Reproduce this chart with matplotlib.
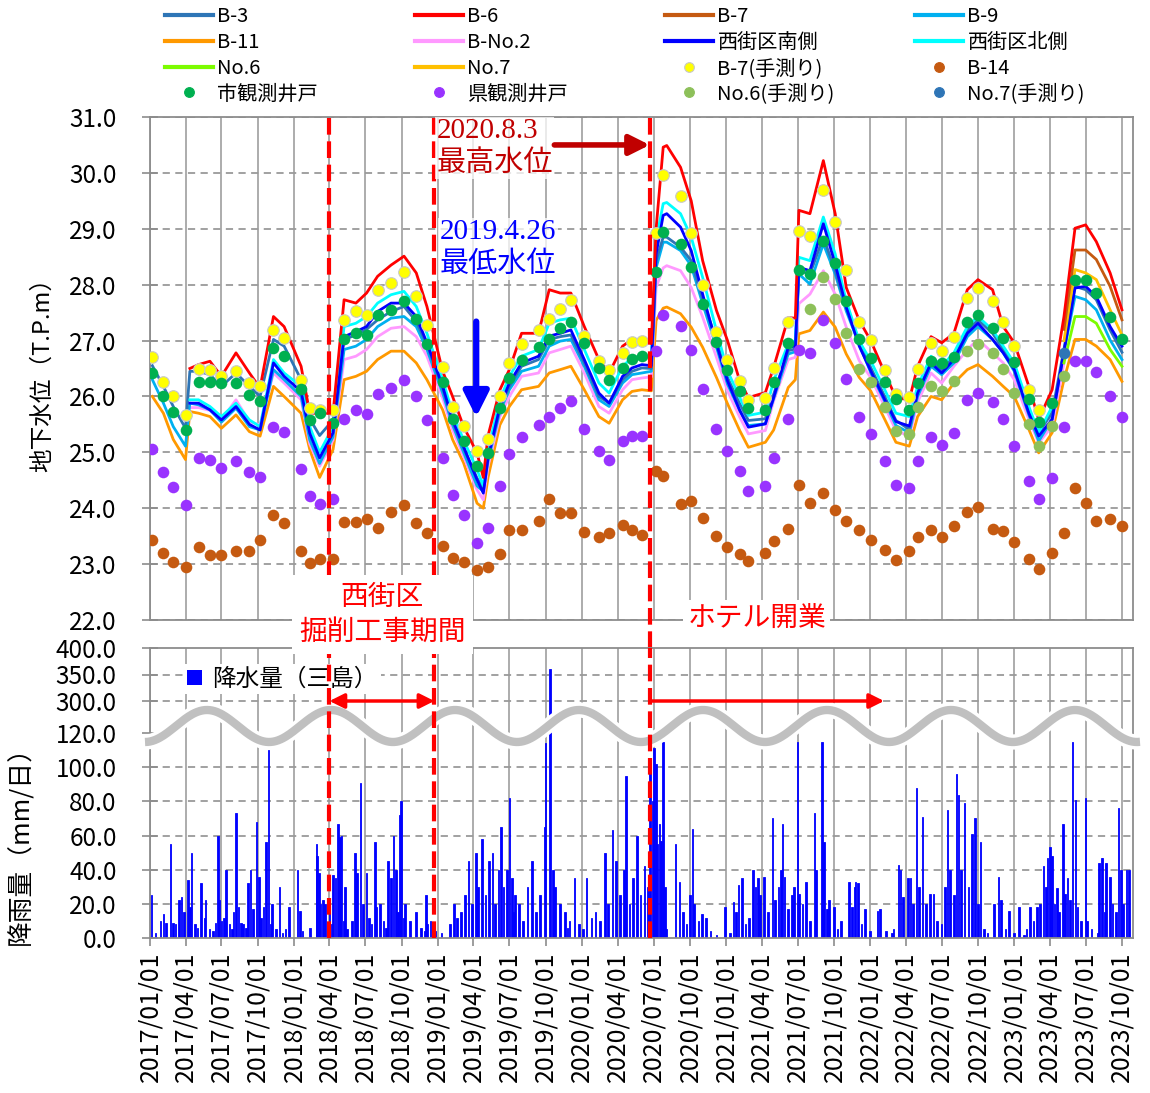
import numpy as np
import pandas as pd
import matplotlib
matplotlib.use("Agg")
import matplotlib.pyplot as plt
import matplotlib.dates as mdates
from matplotlib.lines import Line2D
from matplotlib.patches import Patch

plt.rcParams['font.family'] = ['Noto Sans CJK JP', 'DejaVu Sans']

# ---- observation dates (manual readings + a few extra points for the logger lines)
obs_dates = [
    # 2017
    '2017-01-07', '2017-02-04', '2017-03-01', '2017-04-01', '2017-04-12', '2017-05-04', '2017-06-02',
    '2017-07-01', '2017-08-07', '2017-09-10', '2017-10-07', '2017-11-10', '2017-12-07',
    # 2018
    '2018-01-19', '2018-02-10', '2018-03-07', '2018-04-10', '2018-05-08', '2018-06-07',
    '2018-07-04', '2018-08-01', '2018-09-04', '2018-10-07', '2018-11-07', '2018-12-04',
    # 2019
    '2019-01-13', '2019-02-07', '2019-03-07', '2019-04-10', '2019-04-26', '2019-05-08', '2019-06-07',
    '2019-07-01', '2019-08-01', '2019-09-13', '2019-10-10', '2019-11-07', '2019-12-04',
    # 2020
    '2020-01-07', '2020-02-13', '2020-03-10', '2020-04-13', '2020-05-07', '2020-06-01', '2020-06-25',
    '2020-07-07', '2020-07-25', '2020-08-03', '2020-09-07', '2020-10-04', '2020-11-02', '2020-12-07',
    # 2021
    '2021-01-04', '2021-02-04', '2021-02-26', '2021-04-10', '2021-05-01', '2021-06-07', '2021-06-25',
    '2021-07-04', '2021-08-01', '2021-09-04', '2021-10-04', '2021-11-01', '2021-12-04',
    # 2022
    '2022-01-02', '2022-02-08', '2022-03-07', '2022-04-10', '2022-05-01', '2022-06-04',
    '2022-07-01', '2022-08-01', '2022-09-04', '2022-10-01', '2022-11-07', '2022-12-04',
    # 2023
    '2023-01-01', '2023-02-07', '2023-03-04', '2023-04-07', '2023-05-07', '2023-06-04',
    '2023-07-01', '2023-07-28', '2023-09-01', '2023-10-01',
]

# logger lines (T.P.m)
b6 = [None, None, None, None, 26.50, 26.57, 26.63, 26.36, 26.78, 26.42, 26.15, 27.43, 27.25,
      26.54, 25.70, 25.70, 25.70, 27.73, 27.67, 27.85, 28.15, 28.35, 28.51, 28.21, 27.61,
      26.45, 26.00, 25.46, 24.99, 24.55, 25.30, 26.12, 26.48, 27.13, 27.13, 27.91, 27.85, 27.85,
      27.25, 26.66, 26.42, 26.90, 27.02, 27.02, 26.95, 29.00, 30.46, 30.49, 30.10, 29.50, 28.43, 27.54,
      27.00, 26.28, 25.98, 26.07, 26.52, 27.41, 27.40, 29.33, 29.27, 30.22, 29.27, 27.95, 27.36,
      27.00, 26.40, 25.98, 25.94, 26.54, 27.07, 26.96, 27.13, 27.91, 28.09, 27.91, 27.25,
      26.96, 26.18, 25.59, 26.12, 27.43, 29.01, 29.07, 28.77, 28.21, 27.55]
north = [None, None, None, None, 25.94, 25.94, 25.82, 25.64, 25.88, 25.58, 25.46, 26.66, 26.42,
         26.18, 25.46, 25.00, 25.46, 27.25, 27.31, 27.43, 27.67, 27.82, 27.88, 27.61, 27.13,
         26.30, 25.70, 25.22, 24.69, 24.40, 25.05, 25.94, 26.36, 26.72, 26.84, 27.31, 27.37, 27.40,
         26.84, 26.24, 26.06, 26.54, 26.69, 26.72, 26.70, 28.79, 29.45, 29.47, 29.27, 28.85, 28.13, 27.18,
         26.46, 25.98, 25.66, 25.72, 26.28, 26.94, 27.00, 28.49, 28.43, 29.21, 28.55, 27.71, 26.99,
         26.64, 26.10, 25.70, 25.64, 26.18, 26.72, 26.54, 26.78, 27.25, 27.43, 27.19, 26.90,
         26.60, 25.82, 25.35, 25.82, None, None, None, None, None, None]
south = [None, None, None, None, 25.88, 25.88, 25.76, 25.58, 25.82, 25.50, 25.40, 26.60, 26.36,
         26.09, 25.34, 24.90, 25.35, 27.07, 27.16, 27.25, 27.52, 27.67, 27.67, 27.43, 26.96,
         26.18, 25.58, 25.10, 24.51, 24.27, 24.90, 25.82, 26.24, 26.60, 26.72, 27.08, 27.13, 27.19,
         26.66, 26.06, 25.88, 26.36, 26.51, 26.57, 26.55, 28.55, 29.24, 29.27, 29.03, 28.61, 27.83, 26.94,
         26.28, 25.75, 25.45, 25.51, 25.98, 26.88, 26.90, 28.31, 28.25, 29.09, 28.37, 27.60, 26.90,
         26.46, 25.92, 25.55, 25.47, 26.06, 26.60, 26.42, 26.66, 27.13, 27.31, 27.02, 26.78,
         26.48, 25.70, 25.29, 25.59, 26.80, 27.94, 27.97, 27.79, 27.25, 26.90]
b3 = [26.55, 26.18, 25.82, 25.43, 26.45, 26.45, 26.39, 26.18, 26.42, 26.18, 26.00, 27.02, 26.90,
      26.30, 25.60, 25.30, 25.58, 27.02, 27.10, 27.20, 27.37, 27.52, 27.61, 27.34, 26.93,
      26.15, 25.55, 25.08, 24.54, 24.35, 24.95, 25.79, 26.18, 26.54, 26.66, 27.02, 27.07, 27.10,
      26.60, 26.00, 25.88, 26.30, 26.45, 26.51, 26.50, 28.43, 28.85, 28.85, 28.67, 28.43, 27.74, 27.00,
      26.34, 25.87, 25.57, 25.60, 26.04, 26.82, 26.85, 28.25, 28.19, 28.85, 28.25, 27.59, 26.99,
      26.52, 25.98, 25.57, 25.41, 26.12, 26.66, 26.48, 26.72, 27.19, 27.37, 27.13, 26.84,
      26.54, 25.76, 25.35, 25.71, 26.85, 27.97, 27.91, 27.73, 27.19, 26.79]
b9 = [26.30, 25.88, 25.46, 25.11, 25.88, 25.85, 25.76, 25.54, 25.79, 25.46, 25.40, 26.48, 26.30,
      26.00, 25.22, 24.80, 25.28, 26.84, 26.90, 27.02, 27.25, 27.40, 27.43, 27.25, 26.84,
      26.06, 25.49, 25.00, 24.40, 24.30, 24.85, 25.73, 26.12, 26.45, 26.54, 26.90, 26.99, 27.02,
      26.54, 25.94, 25.82, 26.24, 26.39, 26.42, 26.45, 28.30, 28.76, 28.76, 28.61, 28.34, 27.66, 26.88,
      26.22, 25.75, 25.48, 25.51, 25.96, 26.76, 26.80, 28.19, 28.01, 28.73, 28.19, 27.53, 26.93,
      26.43, 25.89, 25.48, 25.35, 26.00, 26.54, 26.39, 26.60, 27.07, 27.25, 27.02, 26.78,
      26.45, 25.67, 25.20, 25.59, 26.80, 27.79, 27.73, 27.55, 27.01, 26.66]
bno2 = [None, None, None, None, 25.80, 25.80, 25.75, 25.58, 25.94, 25.55, 25.49, 26.42, 26.24,
        25.94, 25.15, 24.75, 25.22, 26.66, 26.72, 26.84, 27.07, 27.22, 27.25, 27.07, 26.72,
        25.97, 25.40, 24.93, 24.33, 24.15, 24.75, 25.64, 26.00, 26.36, 26.42, 26.78, 26.84, 26.90,
        26.42, 25.82, 25.70, 26.12, 26.30, 26.33, 26.35, 27.95, 28.30, 28.34, 28.25, 27.95, 27.42, 26.70,
        26.10, 25.63, 25.33, 25.39, 25.92, 26.66, 26.70, 27.66, 27.83, 28.25, 27.83, 27.24, 26.64,
        26.34, 25.80, 25.39, 25.29, 25.90, 26.42, 26.24, 26.54, 26.84, 27.02, 26.78, 26.60,
        26.30, 25.59, 25.17, 25.47, 26.60, None, None, None, None, None]
b11 = [26.00, 25.70, 25.23, 24.87, 25.73, 25.70, 25.64, 25.43, 25.67, 25.37, 25.29, 26.18, 26.00,
       25.70, 25.05, 24.55, 25.05, 26.30, 26.36, 26.45, 26.66, 26.81, 26.81, 26.60, 26.30,
       25.76, 25.23, 24.81, 24.09, 24.00, 24.55, 25.49, 25.82, 26.12, 26.18, 26.42, 26.48, 26.54,
       26.12, 25.64, 25.52, 25.94, 26.09, 26.12, 26.10, 27.36, 27.58, 27.60, 27.48, 27.24, 26.88, 26.34,
       25.87, 25.39, 25.09, 25.18, 25.40, 26.16, 26.30, 27.12, 27.18, 27.51, 27.24, 26.76, 26.34,
       26.10, 25.57, 25.18, 25.11, 25.64, 26.00, 25.94, 26.24, 26.48, 26.57, 26.36, 26.18,
       26.00, 25.41, 24.99, 25.35, 26.30, 27.02, 27.02, 26.90, 26.66, 26.27]

# lines that only exist in 2023
late_dates = ['2023-05-07', '2023-06-04', '2023-07-01', '2023-07-28', '2023-09-01', '2023-10-01']
b7_line = [27.20, 28.62, 28.62, 28.45, 27.97, 27.37]
no7_line = [27.00, 28.27, 28.21, 28.09, 27.55, 27.10]
no6_line = [26.60, 27.43, 27.43, 27.31, 26.84, 26.54]

# manual readings (dots)
b7_hand = [26.70, 26.25, 26.01, 25.67, None, 26.50, 26.48, 26.36, 26.46, 26.24, 26.18, 27.19, 27.05,
           26.30, 25.80, 25.75, 25.76, 27.37, 27.53, 27.45, 27.90, 28.03, 28.23, 27.79, 27.28,
           26.52, 25.82, 25.48, 25.02, None, 25.23, 26.01, 26.60, 26.94, 27.18, 27.39, 27.56, 27.73,
           27.08, 26.63, 26.48, 26.78, 26.97, 26.99, None, 28.92, 29.97, None, 29.58, 28.92, 28.00, 27.15,
           26.65, 26.28, 25.94, 25.98, 26.51, 27.34, None, 28.96, 28.87, 29.70, 29.12, 28.27, 27.33,
           27.01, 26.47, 26.04, 25.99, 26.50, 26.96, 26.81, 27.06, 27.77, 27.94, 27.71, 27.33,
           26.90, 26.11, 25.76, None, None, None, None, None, None, None]
city_well = [26.42, 26.00, 25.73, 25.40, None, 26.25, 26.25, 26.24, 26.24, 26.03, 25.91, 26.87, 26.73,
             26.13, 25.57, 25.70, 25.52, 27.02, 27.13, 27.10, 27.45, 27.54, 27.70, 27.39, 26.94,
             26.25, 25.60, 25.21, 24.75, None, 24.99, 25.79, 26.33, 26.65, 26.88, 27.02, 27.22, 27.33,
             26.96, 26.51, 26.29, 26.51, 26.67, 26.72, None, 28.22, 28.94, None, 28.73, 28.32, 27.66, 26.97,
             26.47, 26.10, 25.79, 25.75, 26.25, 26.95, None, 28.27, 28.19, 28.79, 28.39, 27.71, 27.02,
             26.69, 26.25, 25.95, 25.75, 26.24, 26.63, 26.60, 26.71, 27.34, 27.46, 27.22, 27.05,
             26.62, 25.96, 25.54, 25.88, None, 28.09, 28.09, 27.85, 27.43, 27.03]
pref_well = [25.06, 24.64, 24.38, 24.06, None, 24.89, 24.87, 24.72, 24.84, 24.64, 24.56, 25.46, 25.37,
             24.70, 24.21, 24.07, 24.16, 25.60, 25.76, 25.69, 26.04, 26.15, 26.30, 26.00, 25.57,
             24.90, 24.24, 23.88, 23.38, None, 23.64, 24.40, 24.97, 25.27, 25.49, 25.63, 25.79, 25.92,
             25.42, 25.02, 24.87, 25.20, 25.29, 25.30, None, 26.82, 27.46, None, 27.26, 26.83, 26.13, 25.42,
             25.02, 24.67, 24.31, 24.40, 24.89, 25.60, None, 26.83, 26.77, 27.36, 26.95, 26.32, 25.63,
             25.32, 24.84, 24.42, 24.36, 24.84, 25.27, 25.14, 25.35, 25.94, 26.06, 25.90, 25.60,
             25.12, 24.49, 24.17, 24.54, 25.45, 26.63, 26.63, 26.44, 26.01, 25.64]
b14 = [23.44, 23.20, 23.03, 22.94, None, 23.30, 23.17, 23.17, 23.24, 23.24, 23.44, 23.88, 23.73,
       23.23, 23.02, 23.09, 23.09, 23.76, 23.75, 23.81, 23.64, 23.94, 24.05, 23.73, 23.55,
       23.33, 23.11, 23.03, 22.90, None, 22.94, 23.18, 23.61, 23.61, 23.78, 24.16, 23.91, 23.91,
       23.58, 23.48, 23.55, 23.70, 23.61, 23.52, None, 24.66, 24.58, None, 24.08, 24.13, 23.82, 23.51,
       23.30, 23.18, 23.05, 23.19, 23.41, 23.63, None, 24.42, 24.09, 24.28, 23.97, 23.78, 23.61,
       23.43, 23.25, 23.07, 23.23, 23.49, 23.61, 23.49, 23.68, 23.93, 24.02, 23.63, 23.60,
       23.39, 23.09, 22.92, 23.19, 23.56, 24.36, 24.10, 23.77, 23.81, 23.69]

no6_hand_dates = ['2021-08-01', '2021-09-04', '2021-10-04', '2021-11-01', '2021-12-04',
                  '2022-01-02', '2022-02-08', '2022-03-07', '2022-04-10', '2022-05-01', '2022-06-04',
                  '2022-07-01', '2022-08-01', '2022-09-04', '2022-10-01', '2022-11-07', '2022-12-04',
                  '2023-01-01', '2023-02-07', '2023-03-04', '2023-04-07', '2023-05-07']
no6_hand = [27.57, 28.14, 27.74, 27.13, 26.49,
            26.25, 25.81, 25.38, 25.32, 25.82, 26.19, 26.09, 26.27, 26.81, 26.94, 26.78, 26.49,
            26.07, 25.50, 25.12, 25.48, 26.36]
no7_hand_dates = ['2023-05-07']
no7_hand = [26.77]

# daily rainfall at Mishima (mm/day), main rain days
rain_2017 = [('01-05', 25), ('01-15', 3), ('01-28', 10), ('02-04', 14), ('02-10', 9), ('02-22', 55),
             ('02-28', 9), ('03-07', 8), ('03-16', 22), ('03-22', 24), ('03-28', 15), ('04-07', 34),
             ('04-12', 18), ('04-16', 50), ('04-25', 8), ('05-01', 6), ('05-11', 32), ('05-19', 12),
             ('05-22', 22), ('06-01', 5), ('06-10', 4), ('06-16', 9), ('06-22', 60), ('06-26', 22),
             ('07-01', 10), ('07-07', 12), ('07-13', 40), ('07-22', 8), ('07-28', 5), ('08-01', 15),
             ('08-07', 73), ('08-13', 18), ('08-19', 9), ('08-25', 8), ('09-01', 6), ('09-07', 32),
             ('09-13', 40), ('09-19', 17), ('09-28', 68), ('10-04', 36), ('10-10', 12), ('10-16', 18),
             ('10-22', 56), ('10-28', 110), ('11-03', 8), ('11-07', 20), ('11-16', 5), ('11-25', 30),
             ('12-03', 3), ('12-10', 5), ('12-19', 18)]
rain_2018 = [('01-10', 40), ('01-16', 16), ('01-23', 4), ('02-10', 6), ('02-27', 55), ('03-01', 48),
             ('03-05', 38), ('03-09', 20), ('03-16', 22), ('03-21', 20), ('04-01', 18), ('04-06', 8),
             ('04-10', 37), ('04-16', 35), ('04-22', 67), ('04-28', 59), ('05-01', 60), ('05-07', 10),
             ('05-10', 30), ('05-16', 5), ('05-28', 10), ('06-04', 50), ('06-10', 38), ('06-19', 91),
             ('06-25', 20), ('07-04', 38), ('07-10', 12), ('07-16', 8), ('07-25', 56), ('07-29', 18),
             ('08-07', 20), ('08-16', 10), ('08-22', 6), ('08-28', 45), ('09-04', 35), ('09-10', 60),
             ('09-16', 40), ('09-21', 15), ('09-25', 72), ('09-30', 80), ('10-06', 12), ('10-10', 20),
             ('10-22', 10), ('11-07', 15), ('11-19', 6), ('11-28', 4), ('12-01', 25), ('12-06', 8),
             ('12-13', 10), ('12-25', 4)]
rain_2019 = [('01-10', 3), ('02-01', 8), ('02-10', 20), ('02-19', 12), ('03-01', 15), ('03-10', 25),
             ('03-19', 45), ('03-28', 20), ('04-07', 50), ('04-13', 30), ('04-22', 58), ('05-01', 25),
             ('05-10', 45), ('05-19', 50), ('05-25', 20), ('06-04', 40), ('06-10', 65), ('06-16', 30),
             ('06-25', 40), ('07-01', 82), ('07-07', 35), ('07-12', 15), ('07-16', 25), ('07-25', 20),
             ('08-04', 10), ('08-16', 30), ('08-28', 45), ('09-07', 15), ('09-16', 25), ('09-28', 65),
             ('10-01', 114), ('10-12', 360), ('10-19', 40), ('10-25', 30), ('11-07', 20), ('11-19', 15),
             ('11-25', 6), ('12-01', 10), ('12-13', 35), ('12-25', 8)]
rain_2020 = [('01-04', 5), ('01-13', 35), ('01-25', 12), ('02-04', 15), ('02-16', 10), ('02-28', 50),
             ('03-07', 20), ('03-19', 63), ('03-28', 45), ('04-07', 25), ('04-16', 40), ('04-22', 95),
             ('05-01', 20), ('05-10', 35), ('05-19', 60), ('05-28', 25), ('06-08', 42), ('06-16', 30),
             ('06-22', 102), ('06-28', 80), ('07-01', 111), ('07-04', 40), ('07-07', 102), ('07-11', 55),
             ('07-16', 67), ('07-20', 57), ('07-25', 115), ('07-29', 30), ('08-01', 5), ('08-25', 55),
             ('09-04', 33), ('09-13', 15), ('09-22', 8), ('10-01', 25), ('10-07', 64), ('10-11', 20),
             ('10-22', 10), ('11-01', 14), ('11-10', 12), ('11-22', 4), ('12-07', 2), ('12-28', 18)]
rain_2021 = [('01-10', 3), ('01-19', 21), ('01-25', 15), ('02-01', 31), ('02-10', 35), ('02-19', 8),
             ('02-27', 12), ('03-10', 40), ('03-16', 30), ('03-22', 35), ('03-28', 25), ('04-07', 36),
             ('04-16', 15), ('04-28', 70), ('05-04', 22), ('05-13', 30), ('05-19', 40), ('05-23', 67),
             ('05-28', 36), ('06-07', 17), ('06-16', 25), ('06-22', 30), ('07-01', 115), ('07-04', 26),
             ('07-13', 20), ('07-22', 33), ('08-01', 10), ('08-13', 73), ('08-17', 40), ('09-01', 115),
             ('09-05', 56), ('09-13', 17), ('09-19', 22), ('10-01', 18), ('10-10', 5), ('10-19', 10),
             ('11-08', 33), ('11-16', 18), ('11-22', 30), ('11-25', 33), ('12-01', 32), ('12-10', 8),
             ('12-19', 17)]
rain_2022 = [('01-01', 4), ('01-19', 16), ('01-25', 17), ('02-10', 4), ('02-25', 3), ('03-01', 5),
             ('03-13', 43), ('03-19', 40), ('03-25', 24), ('04-07', 35), ('04-13', 35), ('04-19', 20),
             ('04-28', 88), ('05-04', 30), ('05-13', 71), ('05-22', 20), ('06-01', 26), ('06-10', 26),
             ('06-19', 10), ('07-01', 8), ('07-10', 30), ('07-16', 75), ('07-22', 40), ('08-01', 25),
             ('08-08', 96), ('08-13', 84), ('08-19', 40), ('08-28', 79), ('09-07', 30), ('09-16', 61),
             ('09-23', 70), ('10-01', 20), ('10-07', 56), ('10-16', 5), ('10-25', 3), ('11-10', 20),
             ('11-22', 36), ('11-28', 22), ('12-10', 5), ('12-19', 16)]
rain_2023 = [('01-01', 3), ('01-13', 18), ('01-25', 2), ('02-01', 5), ('02-10', 18), ('02-19', 10),
             ('02-27', 18), ('03-07', 20), ('03-16', 42), ('03-22', 30), ('03-26', 47), ('04-01', 53),
             ('04-07', 48), ('04-13', 20), ('04-19', 29), ('04-25', 15), ('05-04', 67), ('05-10', 26),
             ('05-16', 35), ('05-22', 22), ('05-29', 115), ('06-05', 81), ('06-10', 18), ('06-19', 10),
             ('07-01', 82), ('07-04', 10), ('07-16', 5), ('08-01', 3), ('08-04', 44), ('08-10', 47),
             ('08-13', 47), ('08-19', 15), ('08-22', 44), ('09-01', 36), ('09-07', 20), ('09-16', 15),
             ('09-22', 76), ('09-28', 40), ('10-04', 20), ('10-13', 40), ('10-19', 40)]

# event markers
event_lines = ['2018-04-01', '2018-12-23', '2020-06-21']
ytick_upper = [22, 23, 24, 25, 26, 27, 28, 29, 30, 31]
ytick_lower = [0, 20, 40, 60, 80, 100, 120, 300, 350, 400]


def arr(v):
    return np.array([np.nan if x is None else x for x in v], dtype=float)


def dn(s):
    return mdates.date2num(pd.Timestamp(s))


rain_d, rain_v = [], []
for yr, rows in [(2017, rain_2017), (2018, rain_2018), (2019, rain_2019), (2020, rain_2020),
                 (2021, rain_2021), (2022, rain_2022), (2023, rain_2023)]:
    for md, mm in rows:
        rain_d.append(f'{yr}-{md}')
        rain_v.append(mm)
rain_d = pd.to_datetime(rain_d)

d = pd.to_datetime(obs_dates)
dl = pd.to_datetime(late_dates)
ev = [dn(e) for e in event_lines]

W, H = 1150, 1093
fig = plt.figure(figsize=(W / 100, H / 100), dpi=100)
L, R = 150, 1133
ax1 = fig.add_axes([L / W, 1 - 620 / H, (R - L) / W, (620 - 117) / H])
ax2 = fig.add_axes([L / W, 1 - 938 / H, (R - L) / W, (938 - 648) / H])

xmin, xmax = pd.Timestamp('2017-01-01'), pd.Timestamp('2023-10-29')
qticks = pd.date_range('2017-01-01', '2023-10-01', freq='QS')
grey = '#8C8C8C'

C = dict(b3='#2E75B6', b6='#FF0000', b7='#C55A11', b9='#00B0F0', b11='#FF9900', bno2='#FF99FF',
         south='#0000FF', north='#00FFFF', no6='#7CFC00', no7='#FFC000', yellow='#FFFF00',
         b14='#C55A11', city='#00B050', pref='#9933FF', no6h='#8DC05A', no7h='#2E75B6')

# ---- upper: groundwater
lw = 2.0
ax1.plot(d, arr(b11), color=C['b11'], lw=lw, zorder=2)
ax1.plot(d, arr(bno2), color=C['bno2'], lw=lw, zorder=2)
ax1.plot(d, arr(b9), color=C['b9'], lw=lw, zorder=2)
ax1.plot(d, arr(b3), color=C['b3'], lw=lw, zorder=2)
ax1.plot(d, arr(north), color=C['north'], lw=lw, zorder=2)
ax1.plot(d, arr(south), color=C['south'], lw=lw, zorder=2)
ax1.plot(dl, no6_line, color=C['no6'], lw=lw, zorder=2)
ax1.plot(dl, no7_line, color=C['no7'], lw=lw, zorder=2)
ax1.plot(dl, b7_line, color=C['b7'], lw=lw, zorder=2)
ax1.plot(d, arr(b6), color=C['b6'], lw=lw, zorder=2.5)

ms = 70
ax1.scatter(d, arr(pref_well), s=ms, color=C['pref'], lw=0, zorder=4)
ax1.scatter(d, arr(b14), s=ms, color=C['b14'], lw=0, zorder=4)
ax1.scatter(d, arr(b7_hand), s=ms, color=C['yellow'], edgecolor='#C8C8C8', lw=0.8, zorder=4)
ax1.scatter(d, arr(city_well), s=ms, color=C['city'], lw=0, zorder=4)
ax1.scatter(pd.to_datetime(no6_hand_dates), no6_hand, s=ms, color=C['no6h'], lw=0, zorder=4)
ax1.scatter(pd.to_datetime(no7_hand_dates), no7_hand, s=ms, color=C['no7h'], lw=0, zorder=4)

ax1.set_xlim(xmin, xmax)
ax1.set_ylim(22, 31)
ax1.set_yticks(ytick_upper)
ax1.yaxis.set_major_formatter(plt.FormatStrFormatter('%.1f'))
ax1.set_xticks(qticks)
ax1.tick_params(axis='x', length=0, labelbottom=False)
ax1.tick_params(axis='y', direction='inout', length=12, width=1.2, color=grey, pad=18, labelsize=17.5)
ax1.yaxis.grid(True, color='#9A9A9A', lw=1.3, ls=(0, (4, 3)))
ax1.xaxis.grid(True, color='#A6A6A6', lw=1.3)
ax1.set_axisbelow(True)
ax1.set_ylabel('地下水位（T.P.m）', fontsize=17)
ax1.yaxis.set_label_coords(-0.098, 0.5)

# ---- lower: rainfall with broken axis
def fwd(v):
    return np.interp(v, [0, 120, 300, 400], [0, 205, 237, 290])


def inv(p):
    return np.interp(p, [0, 205, 237, 290], [0, 120, 300, 400])


ax2.set_yscale('function', functions=(fwd, inv))
ax2.bar(rain_d, rain_v, width=4, color='#0000FF', edgecolor='#0000FF', lw=0.6, zorder=2)
ax2.set_xlim(xmin, xmax)
ax2.set_ylim(0, 400)
ax2.set_yticks(ytick_lower)
ax2.yaxis.set_major_formatter(plt.FormatStrFormatter('%.1f'))
ax2.set_xticks(qticks)
ax2.xaxis.set_major_formatter(mdates.DateFormatter('%Y/%m/%d'))
ax2.tick_params(axis='x', direction='out', length=6, width=1.2, color=grey, pad=4, labelsize=18,
                rotation=90)
ax2.tick_params(axis='y', direction='inout', length=12, width=1.2, color=grey, pad=18, labelsize=17.5)
ax2.yaxis.grid(True, color='#9A9A9A', lw=1.3, ls=(0, (4, 3)))
ax2.xaxis.grid(True, color='#A6A6A6', lw=1.3)
ax2.set_axisbelow(True)
for t, val in zip(ax2.yaxis.get_major_ticks(), ytick_lower):
    if val in (0, 120, 400):
        t.gridline.set_visible(False)
ax2.set_ylabel('降雨量（mm/日）', fontsize=18.5)
ax2.yaxis.set_label_coords(-0.118, 0.34)

for ax in (ax1, ax2):
    for s in ax.spines.values():
        s.set_color(grey)
        s.set_linewidth(1.3)

# axis-break wave (decoration)
xp = np.linspace(145, 1140, 800)
yp = 726 + 16 * np.cos(2 * np.pi * (xp - 145) / 124)
wx, wy = (xp - L) / (R - L), (938 - yp) / 290
ax2.plot(wx, wy, transform=ax2.transAxes, color='white', lw=11, clip_on=False, zorder=6,
         solid_capstyle='butt')
ax2.plot(wx, wy, transform=ax2.transAxes, color='#C0C0C0', lw=6, clip_on=False, zorder=6.5,
         solid_capstyle='butt')

ax2.legend(handles=[Patch(facecolor='#0000FF', label='降水量（三島）')], loc='upper left',
           bbox_to_anchor=(0.022, 0.985), fontsize=17, handlelength=0.65, handleheight=0.65,
           handletextpad=0.4, borderpad=0.15, frameon=True, facecolor='white', edgecolor='none',
           framealpha=1, fancybox=False)

# red dashed event lines
for e in ev:
    ax1.axvline(e, ymin=-28 / 503, ymax=1, color='red', lw=3, ls=(0, (4, 1.6)), clip_on=False, zorder=7)
    ax2.axvline(e, color='red', lw=3, ls=(0, (4, 1.6)), zorder=7)

ax2.annotate('', xy=(ev[1], 300), xytext=(ev[0], 300),
             arrowprops=dict(arrowstyle='<|-|>', color='red', lw=2.5, mutation_scale=22,
                             shrinkA=0, shrinkB=0), zorder=8)
ax2.annotate('', xy=(dn('2022-02-05'), 300), xytext=(ev[2], 300),
             arrowprops=dict(arrowstyle='-|>', color='red', lw=2.5, mutation_scale=22,
                             shrinkA=0, shrinkB=0), zorder=8)

# annotations in the groundwater panel
serif = ['Liberation Serif', 'Noto Sans CJK JP']
ax1.text(dn('2018-12-28'), 30.98, '2020.8.3\n最高水位', color='#C00000', fontsize=21,
         family=serif, ha='left', va='top', linespacing=1.3, zorder=9,
         bbox=dict(facecolor='white', edgecolor='none', alpha=0.75, pad=1))
ax1.text(dn('2019-01-06'), 29.17, '2019.4.26\n最低水位', color='#0000FF', fontsize=21,
         family=serif, ha='left', va='top', linespacing=1.3, zorder=9,
         bbox=dict(facecolor='white', edgecolor='none', alpha=0.75, pad=1))
ax1.annotate('', xy=(dn('2020-06-21'), 30.5), xytext=(dn('2019-10-23'), 30.5),
             arrowprops=dict(arrowstyle='-|>', color='#C00000', lw=4, mutation_scale=30,
                             shrinkA=0, shrinkB=0), zorder=9)
ax1.annotate('', xy=(dn('2019-04-08'), 25.63), xytext=(dn('2019-04-08'), 27.34),
             arrowprops=dict(arrowstyle='-|>', color='#0000FF', lw=4.5, mutation_scale=38,
                             shrinkA=0, shrinkB=0), zorder=9)

# period labels straddling both panels
fig.text(dn('2018-08-13'), 22.1, '西街区\n掘削工事期間', transform=ax1.transData,
         color='red', fontsize=20, ha='center', va='center', linespacing=1.2, zorder=10,
         bbox=dict(facecolor='white', edgecolor='none', pad=5))
fig.text(dn('2021-03-19'), 22.02, 'ホテル開業', transform=ax1.transData,
         color='red', fontsize=20, ha='center', va='center', zorder=10,
         bbox=dict(facecolor='white', edgecolor='none', pad=3))

# ---- top legend, four columns
def lh(c):
    return Line2D([], [], color=c, lw=3)


def dh(c, ec=None):
    return Line2D([], [], ls='none', marker='o', ms=7, mfc=c, mec=ec or c, mew=0.8)


columns = [
    (165, [lh(C['b3']), lh(C['b11']), lh(C['no6']), dh(C['city'])],
     ['B-3', 'B-11', 'No.6', '市観測井戸']),
    (415, [lh(C['b6']), lh(C['bno2']), lh(C['no7']), dh(C['pref'])],
     ['B-6', 'B-No.2', 'No.7', '県観測井戸']),
    (665, [lh(C['b7']), lh(C['south']), dh(C['yellow'], '#C8C8C8'), dh(C['no6h'])],
     ['B-7', '西街区南側', 'B-7(手測り)', 'No.6(手測り)']),
    (915, [lh(C['b9']), lh(C['north']), dh(C['b14']), dh(C['no7h'])],
     ['B-9', '西街区北側', 'B-14', 'No.7(手測り)']),
]
for x0, hs, labs in columns:
    fig.legend(hs, labs, loc='upper left', bbox_to_anchor=(x0 / W, 1 - 6 / H), frameon=False,
               borderpad=0, borderaxespad=0, handlelength=2.4, handletextpad=0.2,
               labelspacing=0.24, fontsize=14.5)

fig.savefig('out.png', dpi=100)
